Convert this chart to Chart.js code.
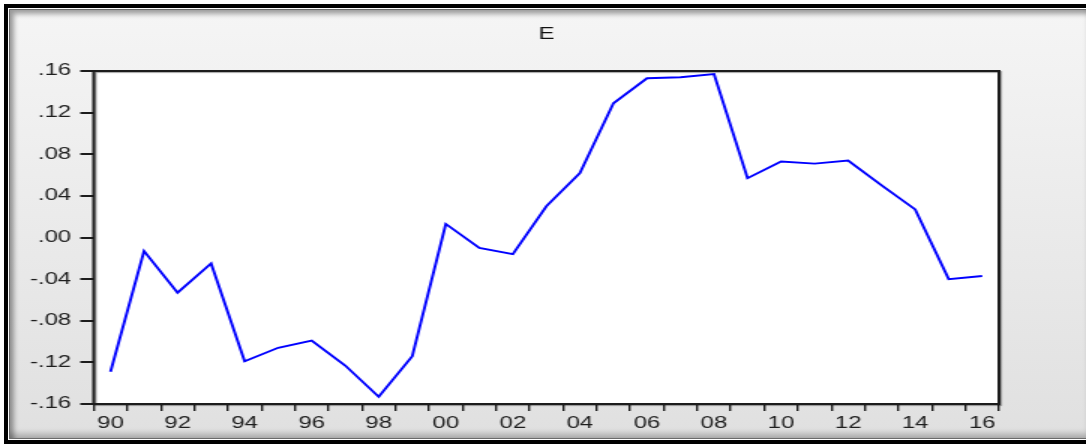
<!DOCTYPE html>
<html>
<head>
<meta charset="utf-8">
<title>E</title>
<script src="https://cdn.jsdelivr.net/npm/chart.js@4.4.1/dist/chart.umd.min.js"></script>
<style>
  html, body { margin: 0; padding: 0; background: #fff; width: 1086px; height: 444px; overflow: hidden; }
  #frame {
    position: absolute; left: 4px; top: 4px; width: 1094px; height: 440px;
    box-sizing: border-box;
    border: 4px solid #000;
  }
  #panel {
    position: absolute; left: 1px; top: 1px; right: 1px; bottom: 1px;
    border: 1px solid #6a6a6a;
    background: linear-gradient(#f5f5f5, #e0e0e0);
    box-shadow: inset 4px 4px 5px rgba(0,0,0,0.35), inset -3px -4px 6px rgba(0,0,0,0.25);
  }
  #chart { position: absolute; left: 0; top: 0; }
</style>
</head>
<body>
<div id="frame"><div id="panel"></div></div>
<!-- the graph is drawn at 2/3 width and widened, like the exported picture -->
<canvas id="chart" width="724" height="444" style="width:1086px;height:444px"></canvas>
<script>
// Series E, annual, 1990-2016
const seriesName = 'E';
const years = [1990, 1991, 1992, 1993, 1994, 1995, 1996, 1997, 1998, 1999,
               2000, 2001, 2002, 2003, 2004, 2005, 2006, 2007, 2008, 2009,
               2010, 2011, 2012, 2013, 2014, 2015, 2016];
const values = [-0.129, -0.013, -0.053, -0.025, -0.119, -0.106, -0.099, -0.123, -0.153, -0.114,
                 0.013, -0.010, -0.016,  0.030,  0.062,  0.129,  0.153,  0.154,  0.157,  0.057,
                 0.073,  0.071,  0.074,  0.050,  0.027, -0.040, -0.037];
const yTicks = [-0.16, -0.12, -0.08, -0.04, 0, 0.04, 0.08, 0.12, 0.16];
// two-digit year on every other tick
const xLabels = years.map(y => (y % 2 === 0 ? String(y).slice(2) : ''));

function fmtTick(v) {
  const s = Math.abs(v).toFixed(2).replace(/^0/, '');
  return (v < -1e-9 ? '-' : '') + s;
}

const FONT = 'Liberation Sans, Arial, Helvetica, sans-serif';
const INK = '#1c1c1c';

// white plot area with a dark frame round it
const plotFrame = {
  id: 'plotFrame',
  beforeDraw(chart) {
    const { ctx, chartArea: a } = chart;
    ctx.save();
    ctx.fillStyle = '#ffffff';
    ctx.fillRect(a.left, a.top, a.right - a.left, a.bottom - a.top);
    ctx.restore();
  },
  afterDatasetsDraw(chart) {
    const { ctx, chartArea: a } = chart;
    ctx.save();
    ctx.strokeStyle = INK;
    ctx.lineWidth = 2;
    ctx.shadowColor = 'rgba(0,0,0,0.35)';
    ctx.shadowOffsetX = 1;
    ctx.shadowOffsetY = 1;
    ctx.shadowBlur = 1;
    ctx.strokeRect(a.left, a.top, a.right - a.left, a.bottom - a.top);
    ctx.restore();
  }
};

new Chart(document.getElementById('chart'), {
  type: 'line',
  data: {
    labels: years.map(String),
    datasets: [{
      label: seriesName,
      data: values,
      borderColor: '#0000ff',
      borderWidth: 1.9,
      pointRadius: 0,
      pointHoverRadius: 0,
      tension: 0,
      fill: false
    }]
  },
  options: {
    responsive: false,
    devicePixelRatio: 1,
    animation: false,
    events: [],
    layout: { padding: { left: 0, right: 58, top: 0, bottom: 0 } },
    plugins: {
      legend: { display: false },
      tooltip: { enabled: false },
      title: {
        display: true,
        text: seriesName,
        fullSize: false,
        color: '#111',
        font: { family: FONT, size: 16, weight: 'normal' },
        padding: { top: 25, bottom: 26.8 }
      }
    },
    scales: {
      x: {
        type: 'category',
        offset: true,
        border: { display: false },
        grid: {
          offset: true,
          drawOnChartArea: false,
          drawTicks: true,
          tickLength: 7,
          lineWidth: 1.4,
          color: INK
        },
        ticks: {
          autoSkip: false,
          maxRotation: 0,
          minRotation: 0,
          padding: 3,
          color: '#1e1e1e',
          font: { family: FONT, size: 16 },
          callback: (v, i) => xLabels[i]
        },
        afterFit: s => { s.height = 40; }
      },
      y: {
        min: -0.16,
        max: 0.16,
        border: { display: false },
        afterBuildTicks: s => { s.ticks = yTicks.map(v => ({ value: v })); },
        grid: {
          drawOnChartArea: false,
          drawTicks: true,
          tickLength: 9,
          lineWidth: 2,
          color: INK
        },
        ticks: {
          padding: 6,
          color: '#1e1e1e',
          font: { family: FONT, size: 16 },
          callback: v => fmtTick(v)
        },
        afterFit: s => { s.width = 62.5; }
      }
    }
  },
  plugins: [plotFrame]
});
</script>
</body>
</html>
